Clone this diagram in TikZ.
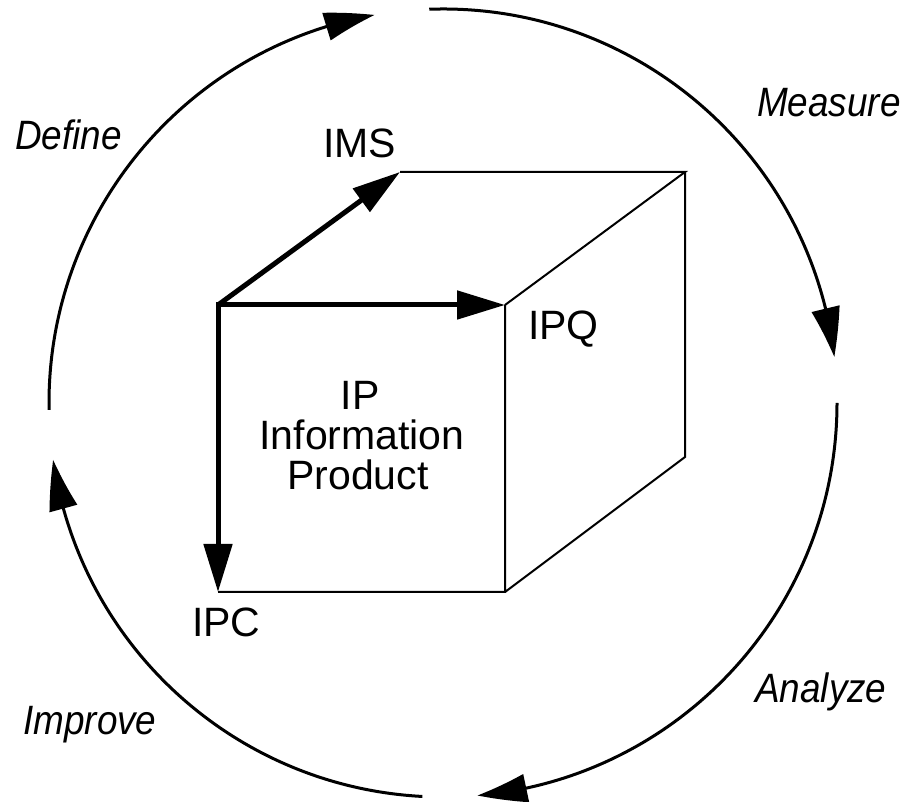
\documentclass[tikz,border=0pt]{standalone}
\usepackage{fontspec}
\setmainfont{Liberation Sans}
\newfontfamily\phasefont[FakeStretch=0.9]{Liberation Sans}
\usetikzlibrary{arrows.meta,bending}

\tikzset{
  cyclearc/.style={line width=3pt, -{Triangle[length=50pt,width=28pt,bend]}},
  cubeedge/.style={line width=2pt, line join=miter},
  dimarrow/.style={line width=5pt, -{Triangle[length=48pt,width=28pt]}},
  phase/.style={anchor=base west, inner sep=0pt, font=\phasefont\fontsize{41}{41}\selectfont\itshape},
  dimlabel/.style={anchor=base west, inner sep=0pt, font=\fontsize{41}{41}\selectfont},
}

\begin{document}
\begin{tikzpicture}[x=1pt,y=1pt]
    \useasboundingbox (0,0) rectangle (912,802);
    \coordinate (O) at (443,399);

    % the four phases round the cycle
    \draw[cyclearc] (O) ++(181:394) arc (181:100:394);
    \draw[cyclearc] (O) ++(92:394) arc (92:6.7:394);
    \draw[cyclearc] (O) ++(0:394) arc (0:-85:394);
    \draw[cyclearc] (O) ++(-93:394) arc (-93:-171.7:394);

    \node[phase] (define) at (15,652) {Define};
    \node[phase] (measure) at (757,685) {Measure};
    \node[phase] (analyze) at (755,99) {Analyze};
    \node[phase] (improve) at (23,67) {Improve};

    % cube corners
    \coordinate (A) at (218,497);
    \coordinate (B) at (505,497);
    \coordinate (C) at (505,210);
    \coordinate (D) at (218,210);
    \coordinate (E) at (400,630);
    \coordinate (F) at (685,630);
    \coordinate (G) at (685,345);
    \draw[cubeedge] (B) -- (C) -- (D) (E) -- (F) -- (B) (F) -- (G) -- (C);

    % the three dimensions
    \draw[dimarrow] (A) -- (E);
    \draw[dimarrow] (A) -- (B);
    \draw[dimarrow] (A) -- (D);
    \fill (A) ++(-2.5,-2.5) rectangle ++(5,5);

    \node[dimlabel] (ims) at (323,644) {IMS};
    \node[dimlabel] (ipq) at (528,462) {IPQ};
    \node[dimlabel] (ipc) at (192,165) {IPC};

    \node[dimlabel, anchor=base] (ip) at (360,392) {IP};
    \node[dimlabel, anchor=base] (ipinfo) at (362,352) {Information};
    \node[dimlabel, anchor=base] (ipprod) at (358,312) {Product};
\end{tikzpicture}
\end{document}
